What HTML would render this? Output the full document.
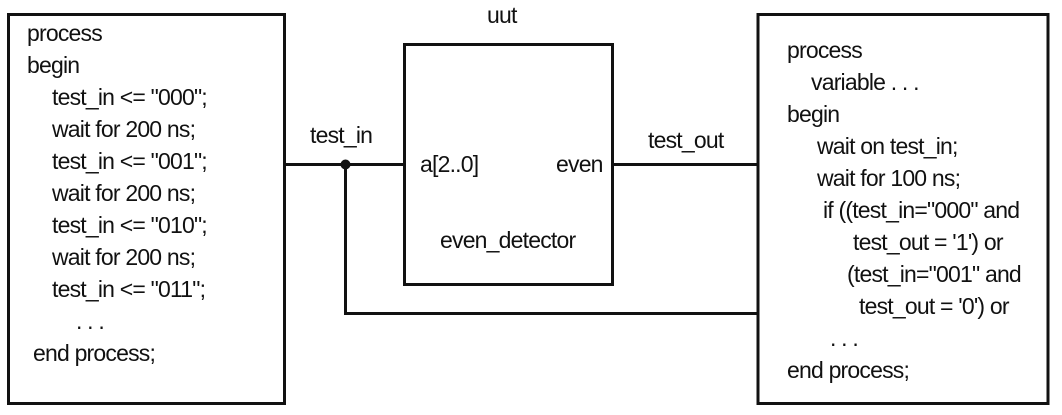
<!DOCTYPE html>
<html><head><style>
html,body{margin:0;padding:0;background:#fff;}
svg{display:block;}
text{font-family:"Liberation Sans",Arial,sans-serif;font-size:23px;fill:#111;letter-spacing:-0.8px;}
</style></head><body>
<svg width="1062" height="415" viewBox="0 0 1062 415" xmlns="http://www.w3.org/2000/svg">
<g fill="none" stroke="#111" stroke-width="3">
<rect x="8.5" y="14.5" width="276" height="389"/>
<rect x="758" y="14.5" width="290" height="389"/>
<rect x="404.5" y="44.5" width="208" height="240"/>
<line x1="285" y1="164.5" x2="404" y2="164.5"/>
<polyline points="345.5,164 345.5,313.5 758,313.5"/>
<line x1="613" y1="164.5" x2="758" y2="164.5"/>
</g>
<circle cx="345.5" cy="164.5" r="5" fill="#111"/>
<text x="27" y="41">process</text>
<text x="27" y="73">begin</text>
<text x="52" y="105">test_in &lt;= "000";</text>
<text x="52" y="137">wait for 200 ns;</text>
<text x="52" y="169">test_in &lt;= "001";</text>
<text x="52" y="201">wait for 200 ns;</text>
<text x="52" y="233">test_in &lt;= "010";</text>
<text x="52" y="265">wait for 200 ns;</text>
<text x="52" y="297">test_in &lt;= "011";</text>
<text x="76" y="329" letter-spacing="6">. . .</text>
<text x="33" y="361">end process;</text>

<text x="310" y="143">test_in</text>
<text x="487" y="23">uut</text>
<text x="420" y="172">a[2..0]</text>
<text x="556" y="172">even</text>
<text x="440" y="248">even_detector</text>
<text x="648" y="148">test_out</text>

<text x="787" y="58">process</text>
<text x="811" y="90">variable . . .</text>
<text x="787" y="122">begin</text>
<text x="817" y="154">wait on test_in;</text>
<text x="817" y="186">wait for 100 ns;</text>
<text x="823" y="218">if ((test_in="000" and</text>
<text x="853" y="250">test_out = '1') or</text>
<text x="847" y="282">(test_in="001" and</text>
<text x="859" y="314">test_out = '0') or</text>
<text x="830" y="346" letter-spacing="6">. . .</text>
<text x="787" y="378">end process;</text>
</svg>
</body></html>
